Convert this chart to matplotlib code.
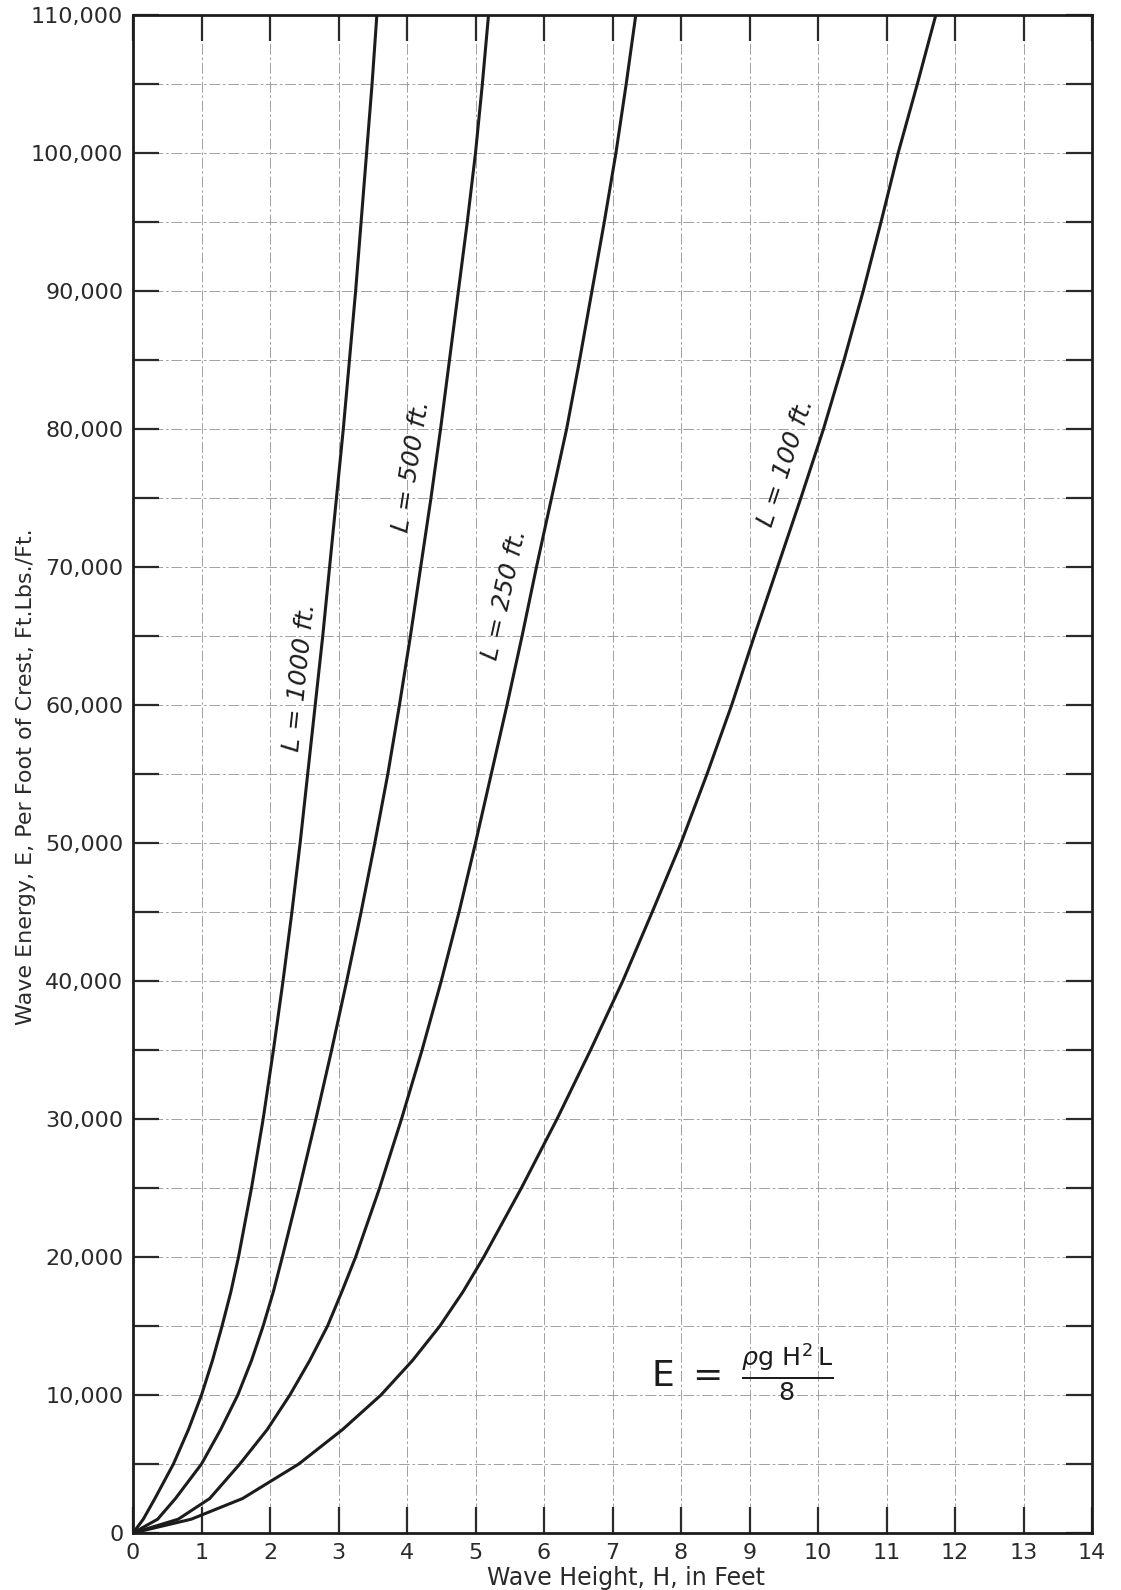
import matplotlib.pyplot as plt

energy_levels = [0, 1000, 2500, 5000, 7500, 10000, 12500, 15000, 17500, 20000,
                 25000, 30000, 35000, 40000, 45000, 50000, 55000, 60000, 65000,
                 70000, 75000, 80000, 85000, 90000, 95000, 100000, 105000, 110000]

# Wave height H (ft) for each wave length curve
height_L1000 = [0, 0.15, 0.32, 0.59, 0.81, 1.00, 1.16, 1.30, 1.43, 1.54,
                1.73, 1.90, 2.05, 2.19, 2.32, 2.44, 2.55, 2.66, 2.77,
                2.87, 2.97, 3.07, 3.16, 3.25, 3.33, 3.41, 3.49, 3.56]
height_L500 = [0, 0.36, 0.62, 1.00, 1.28, 1.53, 1.73, 1.90, 2.05, 2.18,
               2.43, 2.67, 2.90, 3.12, 3.33, 3.53, 3.72, 3.89, 4.05,
               4.20, 4.35, 4.49, 4.62, 4.75, 4.88, 5.00, 5.10, 5.19]
height_L250 = [0, 0.66, 1.12, 1.56, 1.96, 2.29, 2.58, 2.84, 3.05, 3.25,
               3.60, 3.92, 4.22, 4.50, 4.76, 5.00, 5.23, 5.46, 5.68,
               5.89, 6.11, 6.33, 6.52, 6.70, 6.88, 7.05, 7.20, 7.34]
height_L100 = [0, 0.85, 1.60, 2.42, 3.06, 3.62, 4.08, 4.48, 4.82, 5.12,
               5.67, 6.19, 6.68, 7.15, 7.58, 8.00, 8.38, 8.74, 9.07,
               9.41, 9.75, 10.08, 10.38, 10.66, 10.92, 11.17, 11.45, 11.72]

curve_labels = ['L = 1000 ft.', 'L = 500 ft.', 'L = 250 ft.', 'L = 100 ft.']

x_ticks = list(range(0, 15))
y_ticks = list(range(0, 110001, 5000))

W, H = 1121, 1590
fig = plt.figure(figsize=(W / 100, H / 100), dpi=100)
ax = fig.add_axes([133 / W, 1 - 1533 / H, 959 / W, 1518 / H])

ink = '#1c1c1c'
for h in [height_L1000, height_L500, height_L250, height_L100]:
    ax.plot(h, energy_levels, color=ink, lw=2.2, solid_capstyle='round',
            solid_joinstyle='round')

ax.set_xlim(0, 14)
ax.set_ylim(0, 110000)
ax.set_xticks(x_ticks)
ax.set_xticklabels([str(v) for v in x_ticks])
ax.set_yticks(y_ticks)
ax.set_yticklabels([f'{v:,}' if v % 10000 == 0 else '' for v in y_ticks])

ax.tick_params(direction='in', length=19, width=1.6, top=True, right=True,
               labelsize=16, pad=7, colors='#2a2a2a')
ax.grid(True, color='#9a9a9a', lw=0.65, ls=(0, (12, 3, 3, 3)))
for s in ax.spines.values():
    s.set_linewidth(2.0)
    s.set_color(ink)

# curve labels, written along each curve
label_spots = [(2.44, 62000, 84), (4.07, 77300, 81), (5.43, 68000, 77.5), (9.53, 77600, 72)]
for text, (hx, ey, rot) in zip(curve_labels, label_spots):
    ax.text(hx, ey, text, rotation=rot, ha='center', va='center',
            rotation_mode='anchor', fontsize=18, style='italic', color=ink)

ax.text(8.89, 11700,
        r'$\mathrm{E}\ \mathrm{=}\ \frac{\rho\mathrm{g}\ \mathrm{H}^2\,\mathrm{L}}{8}$',
        ha='center', va='center', fontsize=26, color=ink)

fig.text(26 / W, 1 - 777 / H, 'Wave Energy, E, Per Foot of Crest, Ft.Lbs./Ft.',
         rotation=90, ha='center', va='center', fontsize=16, color='#2a2a2a')
fig.text(626 / W, 1 - 1578 / H, 'Wave Height, H, in Feet',
         ha='center', va='center', fontsize=17, color='#2a2a2a')

fig.savefig('out.png', dpi=100)
plt.close(fig)
